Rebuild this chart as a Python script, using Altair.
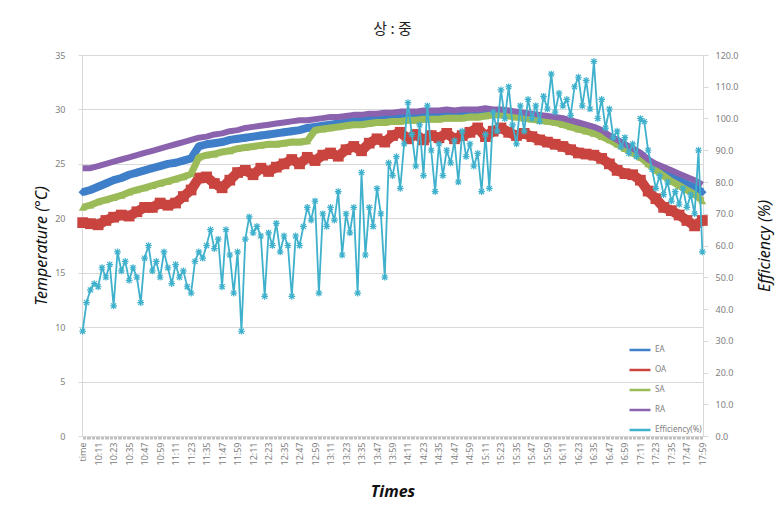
import altair as alt
import pandas as pd

# ---- tick labels (x axis) ----
tick_labels = ["time", "10:11", "10:23", "10:35", "10:47", "10:59", "11:11", "11:23", "11:35",
               "11:47", "11:59", "12:11", "12:23", "12:35", "12:47", "12:59", "13:11", "13:23",
               "13:35", "13:47", "13:59", "14:11", "14:23", "14:35", "14:47", "14:59", "15:11",
               "15:23", "15:35", "15:47", "15:59", "16:11", "16:23", "16:35", "16:47", "16:59",
               "17:11", "17:23", "17:35", "17:47", "17:59"]
# all categories: "time" then one per minute 10:00 .. 17:59
categories = ["time"] + [f"{(600 + m) // 60}:{(600 + m) % 60:02d}" for m in range(480)]

series_names = ["EA", "OA", "SA", "RA", "Efficiency(%)"]
series_colors = ["#3f7fc9", "#c9443f", "#9bbb59", "#8a62ad", "#3fb1cc"]

# temperatures, sampled every 6 minutes (category index 0, 6, ..., 480)
EA = [22.4, 22.6, 22.9, 23.2, 23.5, 23.7, 24.0, 24.2, 24.4, 24.6,
      24.8, 25.0, 25.1, 25.3, 25.5, 26.6, 26.8, 26.9, 27.0, 27.2,
      27.3, 27.4, 27.5, 27.6, 27.7, 27.8, 27.9, 28.0, 28.1, 28.3,
      28.4, 28.5, 28.6, 28.7, 28.8, 28.9, 29.0, 29.1, 29.2, 29.2,
      29.3, 29.4, 29.4, 29.5, 29.5, 29.6, 29.6, 29.7, 29.7, 29.7,
      29.8, 29.8, 29.8, 29.8, 29.7, 29.6, 29.5, 29.4, 29.3, 29.2,
      29.1, 29.0, 28.9, 28.7, 28.5, 28.3, 28.1, 27.8, 27.5, 27.1,
      26.7, 26.3, 25.9, 25.3, 24.8, 24.3, 23.9, 23.5, 23.1, 22.8,
      22.4]
OA = [19.6, 19.5, 19.4, 19.8, 20.1, 20.3, 20.2, 20.6, 21.0, 21.0,
      21.4, 21.2, 21.4, 22.0, 22.6, 23.7, 23.8, 23.2, 22.8, 23.5,
      24.2, 24.4, 24.0, 24.6, 24.3, 24.7, 25.0, 25.4, 25.0, 25.6,
      25.3, 25.8, 26.0, 25.7, 26.3, 26.6, 26.2, 26.9, 27.3, 27.0,
      27.6, 27.9, 27.3, 27.7, 27.2, 27.6, 27.4, 27.8, 27.3, 27.6,
      27.9, 28.3, 27.5, 28.0, 28.3, 27.9, 27.6, 27.8, 27.5, 27.2,
      27.0, 26.8, 26.6, 26.3, 26.0, 25.9, 25.8, 25.5, 25.0, 24.4,
      24.1, 24.0, 23.5, 22.5, 21.8, 21.0, 20.7, 20.3, 19.8, 19.3,
      19.8]
SA = [21.0, 21.2, 21.5, 21.7, 21.9, 22.1, 22.4, 22.6, 22.8, 23.0,
      23.2, 23.4, 23.6, 23.8, 24.1, 25.6, 25.8, 25.9, 26.1, 26.2,
      26.4, 26.5, 26.6, 26.7, 26.8, 26.8, 26.9, 27.0, 27.0, 27.1,
      28.1, 28.2, 28.3, 28.4, 28.5, 28.6, 28.6, 28.7, 28.8, 28.8,
      28.9, 28.9, 29.0, 29.0, 29.1, 29.1, 29.1, 29.2, 29.2, 29.2,
      29.3, 29.3, 29.4, 29.5, 29.5, 29.4, 29.3, 29.2, 29.1, 29.0,
      28.9, 28.8, 28.6, 28.4, 28.2, 28.0, 27.8, 27.5, 27.2, 26.8,
      26.4, 26.0, 25.6, 25.0, 24.4, 23.9, 23.4, 23.0, 22.6, 22.2,
      21.6]
RA = [24.6, 24.6, 24.8, 25.0, 25.2, 25.4, 25.6, 25.8, 26.0, 26.2,
      26.4, 26.6, 26.8, 27.0, 27.2, 27.4, 27.5, 27.7, 27.8, 28.0,
      28.1, 28.3, 28.4, 28.5, 28.6, 28.7, 28.8, 28.9, 29.0, 29.0,
      29.1, 29.2, 29.3, 29.3, 29.4, 29.5, 29.5, 29.6, 29.6, 29.7,
      29.7, 29.8, 29.8, 29.8, 29.9, 29.9, 29.9, 30.0, 29.9, 30.0,
      30.0, 30.0, 30.1, 30.0, 30.0, 29.9, 29.8, 29.7, 29.6, 29.5,
      29.4, 29.3, 29.2, 29.0, 28.8, 28.6, 28.4, 28.1, 27.6, 27.2,
      26.8, 26.4, 26.0, 25.4, 25.0, 24.7, 24.4, 24.1, 23.8, 23.5,
      23.1]
# efficiency (%), sampled every 3 minutes (category index 0, 3, ..., 480)
EFF = [33, 42, 46, 48, 47, 53, 50, 54, 41, 58, 52, 55,
       49, 53, 50, 42, 56, 60, 52, 55, 50, 58, 53, 48,
       54, 50, 52, 47, 45, 55, 58, 56, 60, 65, 59, 62,
       47, 65, 57, 45, 58, 33, 62, 69, 64, 66, 63, 44,
       64, 60, 67, 58, 63, 60, 44, 63, 60, 66, 72, 68,
       74, 45, 70, 66, 72, 68, 77, 57, 70, 64, 72, 45,
       83, 57, 72, 66, 78, 70, 50, 86, 82, 88, 78, 92,
       105, 95, 85, 98, 82, 104, 90, 77, 92, 82, 90, 86,
       93, 80, 96, 88, 92, 85, 89, 77, 95, 78, 102, 96,
       109, 100, 110, 98, 92, 104, 96, 106, 100, 104, 99, 107,
       103, 114, 102, 108, 104, 106, 101, 110, 113, 104, 112, 103,
       118, 100, 106, 97, 103, 94, 96, 91, 94, 89, 92, 88,
       100, 99, 90, 84, 78, 82, 76, 80, 74, 77, 73, 78,
       72, 76, 70, 90, 58]


def frame(vals, step, name):
    idx = list(range(0, step * len(vals), step))
    return pd.DataFrame({"t": [categories[i] for i in idx], "i": idx, "v": vals, "series": name})


GRID = "#d9d9d9"
LBL = "#808080"
FONT = "Noto Sans"

x_enc = alt.X(
    "t:O",
    scale=alt.Scale(domain=categories, type="point", padding=0.5),
    axis=alt.Axis(
        values=categories,
        labelExpr="indexof([" + ",".join(f"'{t}'" for t in tick_labels) + "], datum.value) >= 0 ? datum.value : ''",
        labelAngle=270, labelOverlap=False, labelFontSize=9, labelColor=LBL, labelFont=FONT,
        labelPadding=3, tickSize=3, tickColor="#bfbfbf", domainColor=GRID,
        title="Times", titleFontSize=16, titleFontStyle="italic", titleFontWeight="bold",
        titleFont=FONT, titleColor="#111", titlePadding=18, grid=False,
    ),
)

color_enc = alt.Color(
    "series:N",
    scale=alt.Scale(domain=series_names, range=series_colors),
    legend=alt.Legend(
        title=None, orient="none", legendX=546, legendY=283, direction="vertical",
        symbolType="stroke", symbolSize=440, symbolStrokeWidth=2.5,
        labelFontSize=8, labelColor=LBL, labelFont=FONT, labelOffset=3,
        rowPadding=3, padding=0,
    ),
)

temp_axis = alt.Axis(
    values=[0, 5, 10, 15, 20, 25, 30, 35], grid=True, gridColor=GRID, tickColor=GRID, tickSize=4,
    domainColor=GRID, labelColor=LBL, labelFontSize=9, labelFont=FONT, labelPadding=13,
    title="Temperature (°C)", titleFontSize=16, titleFontStyle="italic", titleFont=FONT,
    titleFontWeight="normal", titleColor="#111", titlePadding=5,
)
y_temp = alt.Y("v:Q", scale=alt.Scale(domain=[0, 35]), axis=temp_axis)


def temp_layer(vals, name, width, shape, size):
    base = alt.Chart(frame(vals, 6, name)).encode(x=x_enc, y=y_temp, color=color_enc, order=alt.Order("i:Q"))
    line = base.mark_line(strokeWidth=width, strokeJoin="round")
    pts = base.mark_point(shape=shape, size=size, filled=True, opacity=1)
    return line + pts


temps = alt.layer(
    temp_layer(EA, "EA", 8, "diamond", 70),
    temp_layer(OA, "OA", 10, "square", 115),
    temp_layer(SA, "SA", 7, "triangle-up", 60),
    temp_layer(RA, "RA", 6, "M-1,-1L1,1M-1,1L1,-1", 50),
)

eff_axis = alt.Axis(
    orient="right", values=list(range(0, 121, 10)), format=".1f", grid=False,
    tickColor=GRID, tickSize=5, domainColor=GRID, labelColor=LBL, labelFontSize=9,
    labelFont=FONT, labelPadding=7,
    title="Efficiency (%)", titleAngle=270, titleFontSize=16, titleFontStyle="italic",
    titleFont=FONT, titleFontWeight="normal", titleColor="#111", titlePadding=34,
)
eff_base = alt.Chart(frame(EFF, 3, "Efficiency(%)")).encode(
    x=x_enc, y=alt.Y("v:Q", scale=alt.Scale(domain=[0, 120]), axis=eff_axis),
    color=color_enc, order=alt.Order("i:Q"),
)
eff = alt.layer(
    eff_base.mark_line(strokeWidth=1.8),
    eff_base.mark_point(shape="M-1,0L1,0M0,-1L0,1M-0.75,-0.75L0.75,0.75M-0.75,0.75L0.75,-0.75",
                        size=45, filled=False, strokeWidth=1.2, opacity=1),
)

chart = alt.layer(temps, eff).resolve_scale(y="independent").properties(
    width=621, height=381,
    title=alt.TitleParams("상 : 중", fontSize=15, font="Noto Sans CJK KR", fontWeight="normal",
                          color="#222", offset=14, anchor="middle"),
    autosize=alt.AutoSizeParams(type="none"),
    padding={"left": 74, "top": 47, "right": 73, "bottom": 78},
).configure_view(stroke=None).configure(background="white")

chart.save("out.html", embed_options={"renderer": "svg", "actions": False})
